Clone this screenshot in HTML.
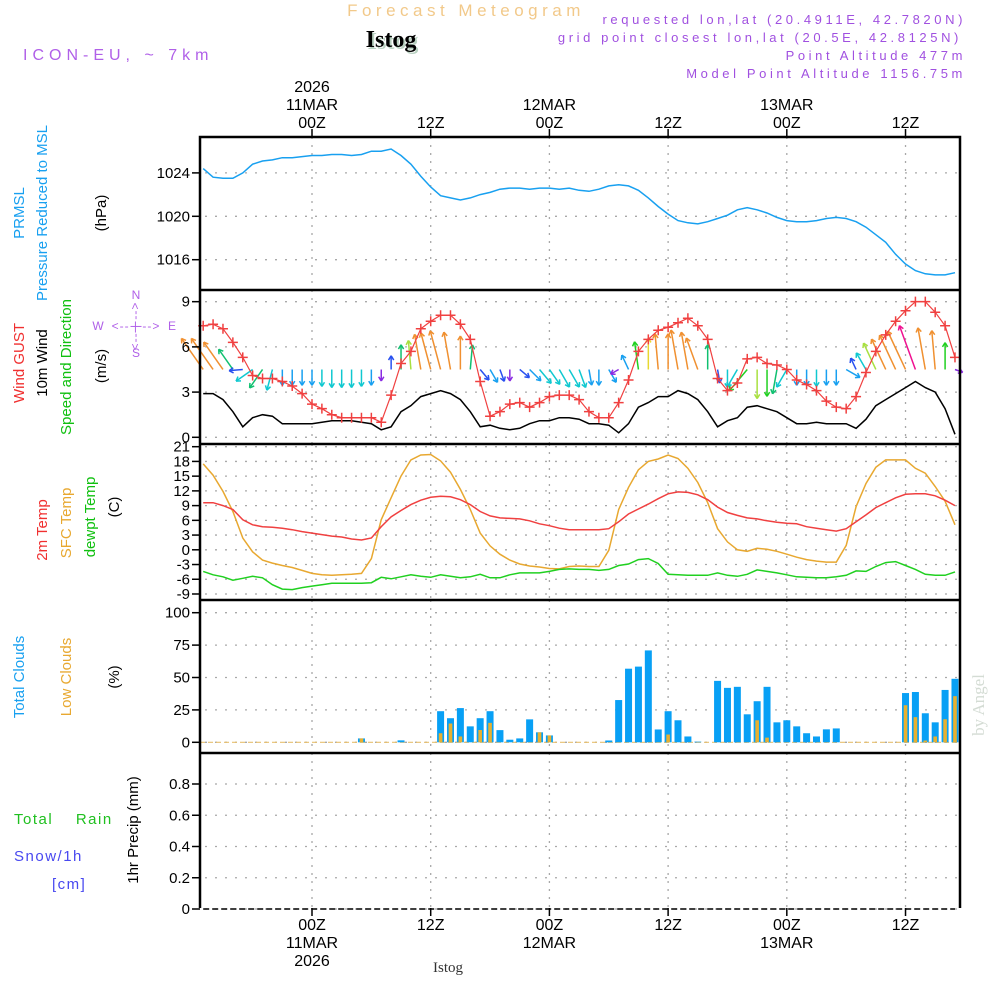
<!DOCTYPE html>
<html><head><meta charset="utf-8"><title>Forecast Meteogram - Istog</title>
<style>
html,body{margin:0;padding:0;background:#fff;}
svg{display:block;font-family:"Liberation Sans",sans-serif;}
</style></head>
<body>
<svg id="chart" width="1000" height="1000" viewBox="0 0 1000 1000" xmlns="http://www.w3.org/2000/svg">
<g id="header">
 <text x="466" y="16" font-size="17" fill="#f2c98a" text-anchor="middle" letter-spacing="4.5">Forecast Meteogram</text>
 <text x="393" y="49" font-size="24" font-weight="bold" font-family="Liberation Serif,serif" fill="#b8d0c0" text-anchor="middle">Istog</text>
 <text x="391" y="47" font-size="24" font-weight="bold" font-family="Liberation Serif,serif" fill="#000" text-anchor="middle">Istog</text>
 <text x="23" y="60" font-size="16" fill="#b060e8" letter-spacing="5">ICON-EU, ~ 7km</text>
 <g font-size="13" fill="#a050e0" text-anchor="end" letter-spacing="3.6">
  <text x="966" y="24">requested lon,lat (20.4911E, 42.7820N)</text>
  <text x="962" y="42">grid point closest lon,lat (20.5E, 42.8125N)</text>
  <text x="966" y="60">Point Altitude 477m</text>
  <text x="966" y="78">Model Point Altitude 1156.75m</text>
 </g>
</g>
<g id="leftlabels" font-size="15">
 <text transform="translate(24,213) rotate(-90)" text-anchor="middle" fill="#18a0f0">PRMSL</text>
 <text transform="translate(47,213) rotate(-90)" text-anchor="middle" fill="#18a0f0">Pressure Reduced to MSL</text>
 <text transform="translate(106,213) rotate(-90)" text-anchor="middle" fill="#000">(hPa)</text>
 <text transform="translate(24,363) rotate(-90)" text-anchor="middle" fill="#f03030">Wind GUST</text>
 <text transform="translate(47,363) rotate(-90)" text-anchor="middle" fill="#000">10m Wind</text>
 <text transform="translate(71,367) rotate(-90)" text-anchor="middle" fill="#10c010">Speed and Direction</text>
 <text transform="translate(106,366) rotate(-90)" text-anchor="middle" fill="#000">(m/s)</text>
 <g fill="#b060e8" font-size="12" text-anchor="middle">
  <text x="98" y="330">W</text><text x="172" y="330">E</text>
  <text x="136" y="330" letter-spacing="1">&lt;-- | --&gt;</text>
  <text transform="translate(139,326) rotate(-90)" letter-spacing="1">&lt;-- | --&gt;</text>
  <text x="136" y="299">N</text><text x="136" y="357">S</text>
 </g>
 <text transform="translate(47,530) rotate(-90)" text-anchor="middle" fill="#f03030">2m Temp</text>
 <text transform="translate(71,523) rotate(-90)" text-anchor="middle" fill="#e8a830">SFC Temp</text>
 <text transform="translate(95,517) rotate(-90)" text-anchor="middle" fill="#10c010">dewpt Temp</text>
 <text transform="translate(119,507) rotate(-90)" text-anchor="middle" fill="#000">(C)</text>
 <text transform="translate(24,677) rotate(-90)" text-anchor="middle" fill="#18a0f0">Total Clouds</text>
 <text transform="translate(71,677) rotate(-90)" text-anchor="middle" fill="#e8a830">Low Clouds</text>
 <text transform="translate(119,677) rotate(-90)" text-anchor="middle" fill="#000">(%)</text>
 <text x="14" y="824" fill="#20c020" letter-spacing="1.5" xml:space="preserve">Total    Rain</text>
 <text x="14" y="861" fill="#4848f0" letter-spacing="1.5">Snow/1h</text>
 <text x="52" y="889" fill="#4848f0" letter-spacing="1.5">[cm]</text>
 <text transform="translate(138,830) rotate(-90)" text-anchor="middle" fill="#000">1hr Precip (mm)</text>
 <text transform="translate(984,705) rotate(-90)" text-anchor="middle" fill="#d4dcd4" font-family="Liberation Serif,serif" font-size="17">by Angel</text>
 <text x="448" y="972" text-anchor="middle" font-family="Liberation Serif,serif" font-size="15" fill="#333">Istog</text>
</g>
<g id="grid"></g>
<g id="marks"></g>
<g id="axes"></g>
</svg>
<script>
// ---- data (hourly, index 0 = 13Z 10MAR) ----
const startHour = -11;
const timeTicks = [0, 12, 24, 36, 48, 60];
const timeTickLabels = ["00Z", "12Z", "00Z", "12Z", "00Z", "12Z"];
const dateLabels = ["11MAR", "", "12MAR", "", "13MAR", ""];
const prmsl = [1024.4,1023.6,1023.5,1023.5,1024,1024.8,1025.1,1025.2,1025.4,1025.4,
1025.5,1025.6,1025.6,1025.7,1025.7,1025.6,1025.7,1026,1026,1026.2,
1025.6,1024.8,1023.7,1022.7,1021.9,1021.7,1021.5,1021.7,1022,1022.2,
1022.5,1022.6,1022.6,1022.5,1022.6,1022.6,1022.5,1022.6,1022.4,1022.3,
1022.5,1022.8,1022.9,1022.8,1022.4,1021.7,1020.9,1020.2,1019.6,1019.4,
1019.3,1019.5,1019.8,1020.1,1020.6,1020.8,1020.6,1020.3,1019.9,1019.6,
1019.5,1019.5,1019.6,1019.8,1019.9,1019.8,1019.5,1019,1018.3,1017.6,
1016.5,1015.6,1015,1014.7,1014.6,1014.6,1014.8];
const gust = [7.4,7.5,7.2,6.3,5.3,4.1,3.9,3.9,3.7,3.4,
2.9,2.2,1.9,1.5,1.3,1.3,1.3,1.3,1.0,2.8,
4.9,5.7,7.2,7.7,8.1,8.1,7.5,6.5,3.7,1.4,
1.7,2.2,2.3,2.0,2.3,2.7,2.8,2.8,2.5,1.7,
1.3,1.3,2.3,3.8,5.7,6.5,7.1,7.3,7.6,7.9,
7.4,6.5,3.9,3.1,3.6,5.2,5.3,4.9,4.8,4.5,
3.8,3.5,3.1,2.4,2.0,1.9,2.7,4.3,5.7,6.8,
7.7,8.4,9.0,9.0,8.3,7.4,5.3];
const wind = [2.9,2.9,2.5,1.7,0.7,1.3,1.5,1.4,0.9,0.9,
0.9,0.9,1.0,1.1,1.1,1.1,1.0,0.9,0.5,0.7,
1.7,2.1,2.7,2.9,3.1,2.9,2.5,1.7,0.7,0.8,
0.6,0.5,0.6,0.9,1.1,1.1,1.3,1.3,1.2,0.9,
0.9,0.8,0.3,0.9,2.0,2.3,2.7,2.7,3.1,2.9,
2.5,1.7,0.7,1.1,1.3,2.0,2.1,1.9,1.7,1.3,
0.9,0.9,1.0,0.9,0.9,0.9,0.6,1.2,2.1,2.5,
2.9,3.3,3.7,3.3,3.0,1.9,0.2];
// direction the arrow points to, degrees clockwise from north
const windDir = [-35,-35,-35,-35,-95,-125,-145,-165,180,180,
180,180,180,180,180,180,180,180,180,0,
0,-5,-10,-15,-15,-10,0,5,140,150,
160,180,130,135,140,145,150,150,160,170,
180,150,-120,-25,-8,0,-5,0,-10,-10,
-20,0,170,180,-150,-140,180,180,-170,-150,
180,180,180,180,180,120,-25,-30,-25,-25,
-25,-25,-20,-10,-5,0,110];
const t2m = [9.6,9.6,9.0,8.2,6.1,5.1,4.7,4.6,4.4,4.1,
3.7,3.4,3.1,2.8,2.6,2.2,2.0,2.4,4.7,6.7,
8.0,9.2,10.1,10.7,10.9,10.8,10.2,9.2,7.8,6.9,
6.5,6.4,6.3,5.9,5.3,4.9,4.4,4.1,4.1,4.1,
4.1,4.3,5.7,7.3,8.3,9.3,10.4,11.4,11.8,11.7,
11.2,10.2,8.7,7.6,7.0,6.5,6.3,5.9,5.6,5.4,
5.3,4.7,4.4,4.1,3.8,4.3,5.7,7.1,8.6,9.6,
10.6,11.3,11.4,11.4,11.0,10.1,9.0];
const tsfc = [17.5,15.2,11.9,7.8,2.4,-0.4,-2.1,-2.7,-3.2,-3.6,
-4.2,-4.8,-5.1,-5.2,-5.1,-5.0,-4.8,-1.8,6.1,10.6,
15.0,18.3,19.3,19.4,18.1,15.8,12.3,8.2,3.4,0.8,
-0.9,-2.1,-2.9,-3.3,-3.5,-3.8,-3.9,-3.4,-3.3,-3.4,
-3.4,-0.1,8.2,12.7,16.3,18.0,18.5,19.3,18.6,16.6,
13.7,9.6,4.3,1.6,0,-0.3,0.3,0.1,-0.3,-0.9,
-1.5,-2.0,-2.3,-2.5,-2.5,0.9,8.8,13.5,16.8,18.3,
18.3,18.3,16.6,15.6,12.9,9.9,5.1];
const tdew = [-4.4,-5.1,-5.5,-6.2,-5.8,-5.4,-5.7,-7.1,-8.0,-8.1,
-7.7,-7.4,-7.1,-6.8,-6.8,-6.8,-6.8,-6.7,-5.6,-5.9,
-5.5,-5.1,-5.4,-5.6,-5.1,-5.4,-5.7,-5.5,-5.0,-5.7,
-5.7,-5.1,-4.7,-4.7,-4.7,-4.4,-4.0,-3.9,-4.0,-4.0,
-4.2,-4.0,-3.2,-2.9,-2.0,-1.8,-2.8,-5.0,-5.1,-5.2,
-5.2,-5.2,-4.7,-5.2,-5.4,-5.0,-4.1,-4.4,-4.7,-5.1,
-5.5,-5.6,-5.7,-5.7,-5.5,-5.2,-4.3,-4.4,-3.4,-2.6,
-2.4,-3.2,-4.0,-5.0,-5.2,-5.2,-4.5];
const cloudTotal = [0,0,0,0,0,0,0,0,0,0,
0,0,0,0,0,0,3,0,0,0,
1.5,0,0,0,24,18.6,26.4,12.3,18.6,24,
9.4,2,3,17.7,7.7,5.3,0,0,0,0,
0,1.4,32.6,56.8,58.4,70.9,9.9,24,17,4.5,
0.5,0,47.4,42,42.8,21.6,31.7,42.8,15.4,17,
12.3,7,4.5,10,10.7,0,0,0,0,0,
0,38,38.8,22.4,15.4,40.4,49];
const cloudLow = [0,0,0,0,0,0,0,0,0,0,
0,0,0,0,0,0,3,0,0,0,
0,0,0,0,7,14.5,4.5,0,9.5,15,
0,0,0,0,7.7,5.3,0,0,0,0,
0,0,0,0,0,0,0,6,0,0,
0,0,0,0,0,0,17,3.6,0,0,
0,0,0,0,0,0,0,0,0,0,
0,28.6,19.4,1.4,4.5,17.8,35.6];
const precip = new Array(77).fill(0);
const prTicks = [1016, 1020, 1024];
const windTicks = [0, 3, 6, 9];
const tempTicks = [-9,-6,-3,0,3,6,9,12,15,18,21];
const cloudTicks = [0, 25, 50, 75, 100];
const precipTicks = [0, 0.2, 0.4, 0.6, 0.8];

// ---- scales ----
const X0 = 200, X1 = 960;
function xH(h){ return 312 + h * 9.892; }
function xI(i){ return xH(i + startHour); }
const yP = v => 216.3 - (v - 1020) * 10.85;
const yW = v => 437.3 - v * 15.07;
const yT = v => 549.8 - v * 4.91;
const yC = v => 742.3 - v * 1.296;
const yR = v => 909 - v * 156.25;
const panels = [[137,290],[290,444],[444,600],[600,753],[753,908]];
const NS = "http://www.w3.org/2000/svg";
const grid = document.getElementById('grid');
const marks = document.getElementById('marks');
const axes = document.getElementById('axes');
function el(tag, attrs, parent){
  const e = document.createElementNS(NS, tag);
  for (const k in attrs) e.setAttribute(k, attrs[k]);
  parent.appendChild(e); return e;
}
function path(arr, yf){ return arr.map((v,i)=>(i?'L':'M')+xI(i).toFixed(1)+' '+yf(v).toFixed(1)).join(' '); }

// gridlines
panels.forEach(([t,b])=>{
  timeTicks.forEach(h=>{
    const g = el('line',{x1:xH(h),x2:xH(h),y1:t,y2:b,stroke:'#a8a8a8','stroke-width':1.3,'stroke-dasharray':'2,6'},grid);
    
    
  });
});
function hgrid(ticks, yf, fmt, name){
  ticks.forEach(v=>{
    const y = yf(v);
    const g = el('line',{x1:X0+5,x2:X1,y1:y,y2:y,stroke:'#a8a8a8','stroke-width':1.3,'stroke-dasharray':'2,8'},grid);
    
    
    const tk = el('line',{x1:X0-8,x2:X0,y1:y,y2:y,stroke:'#000','stroke-width':1.5},axes);
    
    
    const tx = el('text',{x:X0-10,y:y+5,'text-anchor':'end','font-size':15,fill:'#000'},axes);
    
    
    tx.textContent = fmt(v);
  });
}
hgrid(prTicks, yP, v=>String(v), 'pressure');
hgrid(windTicks, yW, v=>String(v), 'wind');
hgrid(tempTicks, yT, v=>String(v), 'temp');
hgrid(cloudTicks, yC, v=>String(v), 'cloud');
hgrid(precipTicks, yR, v=>v===0?'0':v.toFixed(1), 'precip');

// pressure
const pl = el('path',{d:path(prmsl,yP),fill:'none',stroke:'#18a0f0','stroke-width':1.5},marks);



// wind arrows
function windColor(s){
  if (s < 0.6) return '#8a2be2';
  if (s < 0.8) return '#2850f0';
  if (s < 1.0) return '#18a0f0';
  if (s < 1.5) return '#10c8d0';
  if (s < 1.8) return '#10c070';
  if (s < 2.1) return '#20d020';
  if (s < 2.3) return '#a8e040';
  if (s < 2.5) return '#e8d830';
  if (s < 3.5) return '#f09030';
  return '#f01090';
}
const baseY = yW(4.5);
windDir.forEach((d,i)=>{
  const s = wind[i];
  const len = 6 + s * 11;
  const a = d * Math.PI/180;
  const x0 = xI(i), y0 = baseY;
  const x1 = x0 + Math.sin(a)*len, y1 = y0 - Math.cos(a)*len;
  const c = windColor(s);
  const g = el('g',{stroke:c,'stroke-width':1.5,fill:'none'},marks);
  
  
  el('line',{x1:x0,y1:y0,x2:x1,y2:y1},g);
  const h = 5, ha = 0.55;
  const bx = -Math.sin(a), by = Math.cos(a);
  [ha,-ha].forEach(o=>{
    const ca = Math.cos(o), sa = Math.sin(o);
    const rx = bx*ca - by*sa, ry = bx*sa + by*ca;
    el('line',{x1:x1,y1:y1,x2:x1+rx*h,y2:y1+ry*h},g);
  });
});
// mean wind line
const wl = el('path',{d:path(wind,yW),fill:'none',stroke:'#000','stroke-width':1.5},marks);


// gust line + markers
const gl = el('path',{d:path(gust,yW),fill:'none',stroke:'#f04040','stroke-width':1.2},marks);


gust.forEach((v,i)=>{
  const x = xI(i), y = yW(v);
  const m = el('path',{d:`M${x-5} ${y}H${x+5}M${x} ${y-5}V${y+5}`,stroke:'#f04040','stroke-width':1.5},marks);
  
  
});

// temperatures
[[tsfc,'#e8a830','sfc-temp-line'],[t2m,'#f04040','t2m-line'],[tdew,'#20d020','dewpoint-line']].forEach(([arr,c,n])=>{
  const p = el('path',{d:path(arr,yT),fill:'none',stroke:c,'stroke-width':1.5},marks);
  
  
});

// clouds
const bl = el('line',{x1:X0,x2:X1,y1:yC(0),y2:yC(0),stroke:'#e8c070','stroke-width':1.2,'stroke-dasharray':'5,3'},marks);


cloudTotal.forEach((v,i)=>{
  const x = xI(i);
  if (v > 0){
    const r = el('rect',{x:x-3.5,y:yC(v),width:7,height:yC(0)-yC(v),fill:'#08a0f5'},marks);
    
    
  }
  const lv = cloudLow[i];
  if (lv > 0){
    const r2 = el('rect',{x:x-1.8,y:yC(lv),width:3.6,height:yC(0)-yC(lv),fill:'#e8b030'},marks);
    
    
  }
});

// precip
const pr = el('path',{d:path(precip,yR),fill:'none',stroke:'#000','stroke-width':1.5,'stroke-dasharray':'6,3'},marks);



// frame
const fr = el('path',{d:`M${X0} 908V137H${X1}V908`,fill:'none',stroke:'#000','stroke-width':2.5},axes);


[290,444,600,753].forEach(y=>{
  const l = el('line',{x1:X0,x2:X1,y1:y,y2:y,stroke:'#000','stroke-width':2.5},axes);
  
  
});
// time axis labels
timeTicks.forEach((h,k)=>{
  const x = xH(h);
  [[129,137],[908,916]].forEach(([a,b])=>{
    const t = el('line',{x1:x,x2:x,y1:a,y2:b,stroke:'#000','stroke-width':1.5},axes);
    
    
  });
  const tt = el('text',{x:x,y:128,'text-anchor':'middle','font-size':16,fill:'#000'},axes);
  
  
  tt.textContent = timeTickLabels[k];
  const bt = el('text',{x:x,y:930,'text-anchor':'middle','font-size':16,fill:'#000'},axes);
  
  
  bt.textContent = timeTickLabels[k];
  if (dateLabels[k]){
    const d1 = el('text',{x:x,y:110,'text-anchor':'middle','font-size':16,fill:'#000'},axes);
    
    
    d1.textContent = dateLabels[k];
    const d2 = el('text',{x:x,y:948,'text-anchor':'middle','font-size':16,fill:'#000'},axes);
    
    
    d2.textContent = dateLabels[k];
  }
  if (k === 0){
    const y1 = el('text',{x:x,y:92,'text-anchor':'middle','font-size':16,fill:'#000'},axes);
    
    
    y1.textContent = '2026';
    const y2 = el('text',{x:x,y:966,'text-anchor':'middle','font-size':16,fill:'#000'},axes);
    
    
    y2.textContent = '2026';
  }
});
</script>
</body></html>
